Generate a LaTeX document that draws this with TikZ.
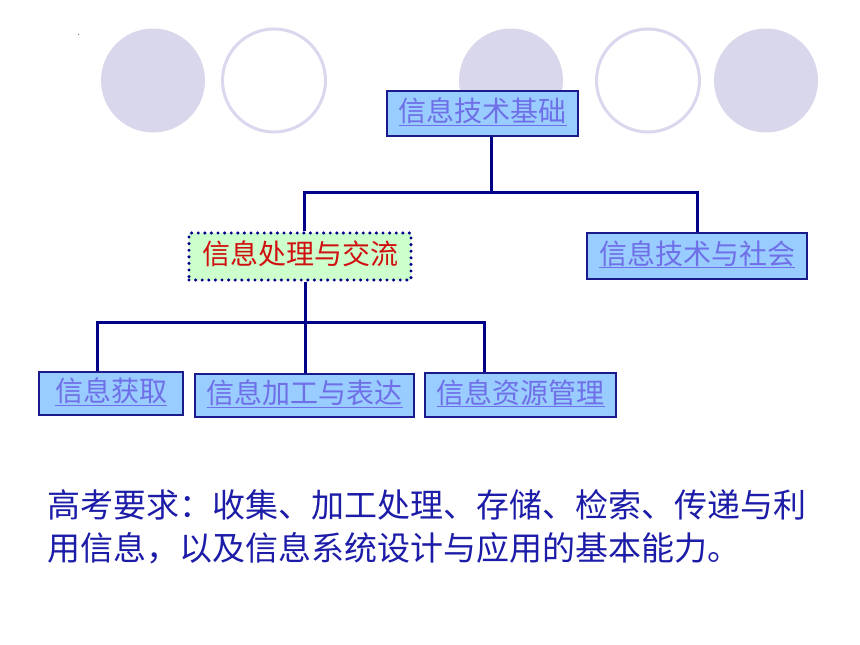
\documentclass[tikz,border=0pt]{standalone}
\usepackage{fontspec}
\setmainfont{Noto Sans CJK SC}
\definecolor{circfill}{HTML}{D9D7EB}
\definecolor{circline}{HTML}{DAD8EE}
\definecolor{boxfill}{HTML}{99CCFF}
\definecolor{boxline}{HTML}{1A1A8C}
\definecolor{linktext}{HTML}{6F6FE8}
\definecolor{connline}{HTML}{000088}
\definecolor{greenfill}{HTML}{CCFFCC}
\definecolor{redtext}{HTML}{D01010}
\definecolor{bodytext}{HTML}{1C1CA8}
\newcommand\ulk[1]{\setbox0\hbox{#1}\rlap{\rule[-4pt]{\wd0}{1.3pt}}\box0}
\begin{document}
\begin{tikzpicture}[x=1pt,y=-1pt,
  disc/.style={fill=circfill},
  ring/.style={draw=circline, line width=3pt, fill=white},
  boxbase/.style={inner sep=0pt, font=\fontsize{28}{34}\selectfont,
    text height=22.4pt, text depth=5.6pt},
  linkbox/.style={boxbase, draw=boxline, line width=1.5pt, fill=boxfill, text=linktext},
  dotbox/.style={boxbase, draw=connline, line width=3.4pt, fill=greenfill, text=redtext,
    dash pattern=on 0pt off 6.6pt, line cap=round},
  conn/.style={draw=connline, line width=3pt},
  body/.style={anchor=base west, inner sep=0pt, text=bodytext, font=\fontsize{33}{43}\selectfont}
]
\useasboundingbox (0,0) rectangle (860,645);
% decorative circles
\fill[disc] (153,80.5) circle[radius=52pt];
\draw[ring] (274,80.5) circle[radius=51.5pt];
\fill[disc] (511,80.5) circle[radius=52pt];
\draw[ring] (648,80.5) circle[radius=51.5pt];
\fill[disc] (766,80.5) circle[radius=52pt];
\fill[gray] (78.6,34.3) circle[radius=0.8pt];
% boxes
\node[linkbox, minimum width=191pt, minimum height=45pt] (top) at (482.5,113.5) {\ulk{信息技术基础}};
\node[dotbox, minimum width=222pt, minimum height=47pt] (mid) at (300,256.5) {信息处理与交流};
\node[linkbox, minimum width=220pt, minimum height=46pt] (right) at (697,256) {\ulk{信息技术与社会}};
\node[linkbox, minimum width=144pt, minimum height=43pt] (b1) at (111,393.5) {\ulk{信息获取}};
\node[linkbox, minimum width=219pt, minimum height=43pt] (b2) at (304.5,395.5) {\ulk{信息加工与表达}};
\node[linkbox, minimum width=191pt, minimum height=44pt] (b3) at (520.5,395) {\ulk{信息资源管理}};
% junctions
\coordinate (j1) at (491,192);
\coordinate (jl) at (304,192);
\coordinate (jr) at (697,192);
\coordinate (km) at (305,322);
\coordinate (kl) at (97,322);
\coordinate (kr) at (484,322);
% connectors
\draw[conn] (top.south -| j1) -- (j1);
\draw[conn] (mid.north -| jl) -- (jl) -- (jr) -- (right.north -| jr);
\draw[conn] (mid.south -| km) -- (km);
\draw[conn] (b1.north -| kl) -- (kl) -- (kr) -- (b3.north -| kr);
\draw[conn] (km) -- (b2.north -| km);
% body text
\node[body] (t1) at (47,517) {高考要求：收集、加工处理、存储、检索、传递与利};
\node[body] (t2) at (47,560) {用信息，以及信息系统设计与应用的基本能力。};
\end{tikzpicture}
\end{document}
